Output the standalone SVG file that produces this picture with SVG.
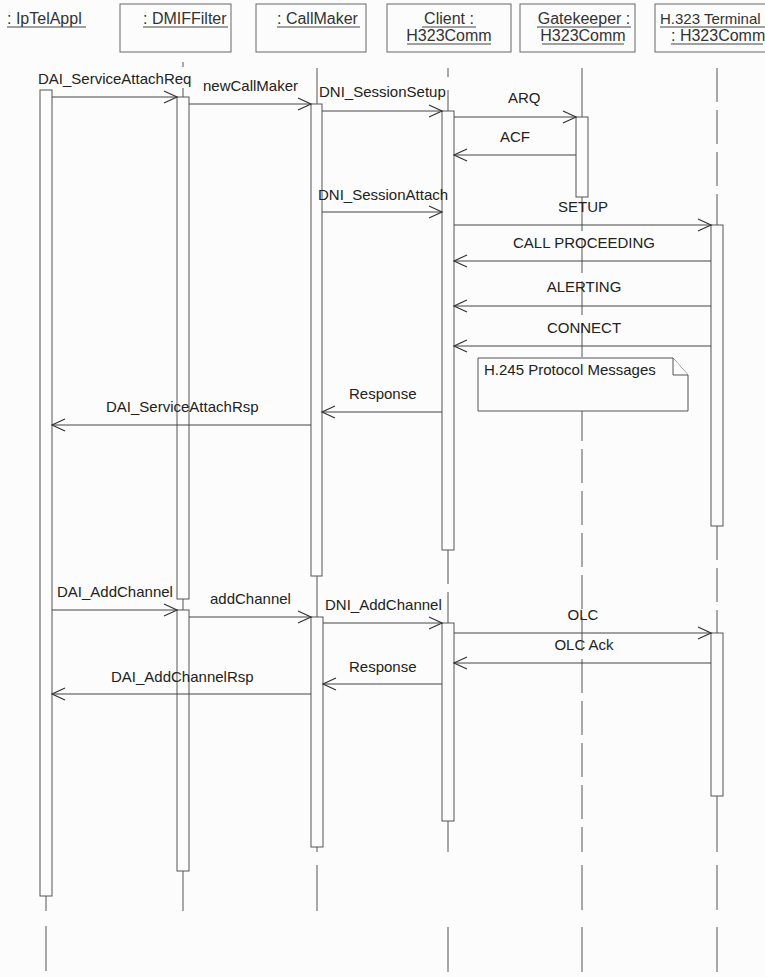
<svg xmlns="http://www.w3.org/2000/svg" width="765" height="977" viewBox="0 0 765 977">
<defs>
<style>
.bg{fill:#fcfcfc}
.hdr{fill:#fcfcfc;stroke:#666;stroke-width:1}
.t{font-family:"Liberation Sans",Arial,sans-serif;font-size:15px;fill:#222}
.th{font-family:"Liberation Sans",Arial,sans-serif;font-size:16px;fill:#333}
.ul{stroke:#444;stroke-width:1}
.life{stroke:#555;stroke-width:1;fill:none}
.dash{stroke-dasharray:34,8}
.bar{fill:#fcfcfc;stroke:#555;stroke-width:1}
.msg{stroke:#444;stroke-width:1;fill:none;marker-end:url(#arr)}
.note{fill:#fcfcfc;stroke:#555;stroke-width:1}
</style>
<marker id="arr" markerUnits="userSpaceOnUse" markerWidth="16" markerHeight="14" refX="14" refY="7" orient="auto" overflow="visible">
<path d="M1,1 L14,7 L1,13" fill="none" stroke="#333" stroke-width="1.2"/>
</marker>
</defs>
<rect class="bg" x="0" y="0" width="765" height="977"/>

<g id="lifelines">
<line class="life" x1="46" y1="896" x2="46" y2="911"/>
<line class="life" x1="46" y1="926" x2="46" y2="971"/>
<line class="life" x1="183" y1="62" x2="183" y2="67"/>
<line class="life" x1="183" y1="88" x2="183" y2="97"/>
<line class="life" x1="183" y1="599" x2="183" y2="610"/>
<line class="life" x1="183" y1="871" x2="183" y2="911"/>
<line class="life" x1="317" y1="68" x2="317" y2="104"/>
<line class="life" x1="317" y1="576" x2="317" y2="617"/>
<line class="life" x1="317" y1="847" x2="317" y2="852"/>
<line class="life" x1="317" y1="865" x2="317" y2="911"/>
<line class="life" x1="448" y1="68" x2="448" y2="77"/>
<line class="life" x1="448" y1="90" x2="448" y2="111"/>
<line class="life dash" x1="448" y1="550" x2="448" y2="623"/>
<line class="life" x1="448" y1="821" x2="448" y2="852"/>
<line class="life" x1="448" y1="927" x2="448" y2="972"/>
<line class="life" x1="582" y1="68" x2="582" y2="117"/>
<line class="life dash" x1="582" y1="197" x2="582" y2="852"/>
<line class="life" x1="582" y1="865" x2="582" y2="910"/>
<line class="life" x1="582" y1="927" x2="582" y2="972"/>
<line class="life dash" x1="717" y1="68" x2="717" y2="225"/>
<line class="life dash" x1="717" y1="526" x2="717" y2="633"/>
<line class="life" x1="717" y1="796" x2="717" y2="852"/>
<line class="life" x1="717" y1="865" x2="717" y2="910"/>
<line class="life" x1="717" y1="927" x2="717" y2="972"/>
</g>

<g id="IpTelAppl">
<text class="th" x="7" y="24">: IpTelAppl</text>
<line class="ul" x1="7" y1="27" x2="86" y2="27"/>
<rect class="bar" x="40" y="90" width="12" height="806"/>
</g>

<g id="DMIFFilter">
<rect class="hdr" x="120" y="4" width="111" height="48"/>
<text class="th" x="143" y="24">: DMIFFilter</text>
<line class="ul" x1="143" y1="27" x2="228" y2="27"/>
<rect class="bar" x="177" y="97" width="12" height="502"/>
<rect class="bar" x="177" y="610" width="12" height="261"/>
</g>

<g id="CallMaker">
<rect class="hdr" x="256" y="4" width="110" height="48"/>
<text class="th" x="277" y="24">: CallMaker</text>
<line class="ul" x1="277" y1="27" x2="360" y2="27"/>
<rect class="bar" x="311" y="104" width="11" height="472"/>
<rect class="bar" x="311" y="617" width="12" height="230"/>
</g>

<g id="Client">
<rect class="hdr" x="387" y="4" width="124" height="48"/>
<text class="th" x="449" y="24" text-anchor="middle">Client :</text>
<line class="ul" x1="422" y1="27" x2="476" y2="27"/>
<text class="th" x="449" y="41" text-anchor="middle">H323Comm</text>
<line class="ul" x1="407" y1="44" x2="491" y2="44"/>
<rect class="bar" x="442" y="111" width="12" height="439"/>
<rect class="bar" x="442" y="623" width="12" height="198"/>
</g>

<g id="Gatekeeper">
<rect class="hdr" x="520" y="4" width="115" height="48"/>
<text class="th" x="584" y="24" text-anchor="middle">Gatekeeper :</text>
<line class="ul" x1="537" y1="27" x2="631" y2="27"/>
<text class="th" x="583" y="41" text-anchor="middle">H323Comm</text>
<line class="ul" x1="542" y1="44" x2="624" y2="44"/>
<rect class="bar" x="576" y="117" width="12" height="80"/>
</g>

<g id="H323Terminal">
<rect class="hdr" x="655" y="4" width="120" height="48"/>
<text class="th" x="660" y="24" style="font-size:15px">H.323 Terminal</text>
<line class="ul" x1="660" y1="27" x2="765" y2="27"/>
<text class="th" x="671" y="41">: H323Comm</text>
<line class="ul" x1="671" y1="44" x2="763" y2="44"/>
<rect class="bar" x="711" y="225" width="12" height="301"/>
<rect class="bar" x="711" y="633" width="12" height="163"/>
</g>

<g id="note-h245">
<path class="note" d="M478,358 H673 L688,375 V411 H478 Z"/>
<path class="note" d="M673,358 V375 H688" fill="none"/>
<text class="t" x="484" y="375">H.245 Protocol Messages</text>
</g>

<g id="connectors">
<line class="msg" x1="52" y1="97" x2="177" y2="97"/>
<line class="msg" x1="189" y1="104" x2="311" y2="104"/>
<line class="msg" x1="322" y1="111" x2="442" y2="111"/>
<line class="msg" x1="454" y1="117" x2="576" y2="117"/>
<line class="msg" x1="576" y1="155" x2="454" y2="155"/>
<line class="msg" x1="322" y1="212" x2="442" y2="212"/>
<line class="msg" x1="454" y1="225" x2="711" y2="225"/>
<line class="msg" x1="711" y1="261" x2="454" y2="261"/>
<line class="msg" x1="711" y1="306" x2="454" y2="306"/>
<line class="msg" x1="711" y1="346" x2="454" y2="346"/>
<line class="msg" x1="442" y1="412" x2="322" y2="412"/>
<line class="msg" x1="311" y1="425" x2="52" y2="425"/>
<line class="msg" x1="52" y1="610" x2="177" y2="610"/>
<line class="msg" x1="189" y1="617" x2="311" y2="617"/>
<line class="msg" x1="323" y1="623" x2="442" y2="623"/>
<line class="msg" x1="454" y1="633" x2="711" y2="633"/>
<line class="msg" x1="711" y1="663" x2="454" y2="663"/>
<line class="msg" x1="442" y1="684" x2="323" y2="684"/>
<line class="msg" x1="311" y1="694" x2="52" y2="694"/>
<text class="t" x="38" y="84">DAI_ServiceAttachReq</text>
<text class="t" x="203" y="91">newCallMaker</text>
<text class="t" x="319" y="97">DNI_SessionSetup</text>
<text class="t" x="508" y="103">ARQ</text>
<text class="t" x="500" y="142">ACF</text>
<text class="t" x="318" y="200">DNI_SessionAttach</text>
<text class="t" x="583" y="212" text-anchor="middle">SETUP</text>
<text class="t" x="584" y="248" text-anchor="middle">CALL PROCEEDING</text>
<text class="t" x="584" y="292" text-anchor="middle">ALERTING</text>
<text class="t" x="584" y="333" text-anchor="middle">CONNECT</text>
<text class="t" x="349" y="399">Response</text>
<text class="t" x="106" y="412">DAI_ServiceAttachRsp</text>
<text class="t" x="57" y="597">DAI_AddChannel</text>
<text class="t" x="210" y="604">addChannel</text>
<text class="t" x="325" y="610">DNI_AddChannel</text>
<text class="t" x="583" y="620" text-anchor="middle">OLC</text>
<text class="t" x="584" y="650" text-anchor="middle">OLC Ack</text>
<text class="t" x="349" y="672">Response</text>
<text class="t" x="111" y="682">DAI_AddChannelRsp</text>
</g>
</svg>
